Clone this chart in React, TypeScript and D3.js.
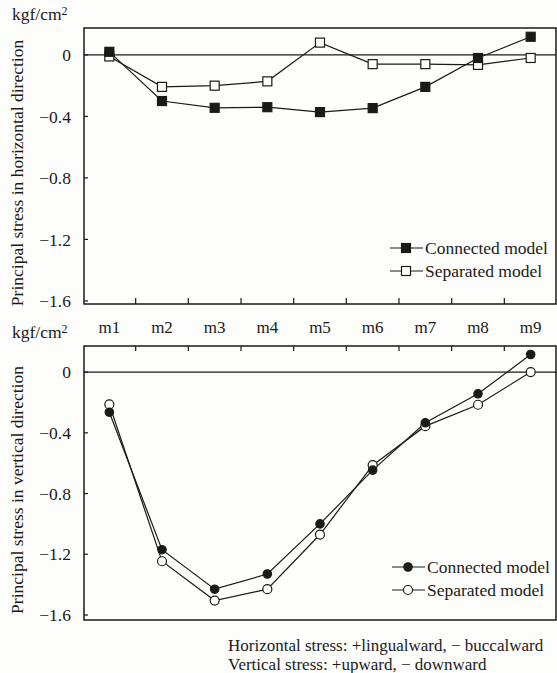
import React from "react"
import * as d3 from "d3"

const positions = ["m1", "m2", "m3", "m4", "m5", "m6", "m7", "m8", "m9"]
const yTicks = [0, -0.4, -0.8, -1.2, -1.6]

// horizontal direction (upper panel)
const horizConnected = [0.02, -0.3, -0.344, -0.34, -0.372, -0.346, -0.208, -0.02, 0.118]
const horizSeparated = [-0.01, -0.208, -0.2, -0.172, 0.08, -0.06, -0.06, -0.065, -0.02]

// vertical direction (lower panel)
const vertConnected = [-0.264, -1.17, -1.43, -1.33, -1.0, -0.646, -0.334, -0.143, 0.116]
const vertSeparated = [-0.213, -1.246, -1.505, -1.43, -1.07, -0.613, -0.356, -0.215, 0]

const seriesNames = ["Connected model", "Separated model"]
const notes = [
  "Horizontal stress: +lingualward, \u2212 buccalward",
  "Vertical stress: +upward, \u2212 downward",
]

const ink = "#1a1a1a"
const font = "'Liberation Serif', 'Times New Roman', serif"
const left = 84,
  right = 556

const x = d3.scaleBand().domain(positions).range([83, 557]).paddingInner(0)
const cx = (d: string) => (x(d) as number) + x.bandwidth() / 2

function Panel({
  top,
  bottom,
  domain,
  connected,
  separated,
  marker,
  title,
  tickSide,
  legendY,
  legendX,
}) {
  const y = d3.scaleLinear().domain(domain).range([top, bottom])
  const line = d3
    .line<number>()
    .x((d, i) => cx(positions[i]))
    .y(d => y(d))

  const drawMarker = (px: number, py: number, filled: boolean, key: string) =>
    marker === "square" ? (
      <rect
        key={key}
        x={px - 4.5}
        y={py - 4.5}
        width={9}
        height={9}
        fill={filled ? ink : "#fff"}
        stroke={ink}
        strokeWidth={1.2}
      />
    ) : (
      <circle
        key={key}
        cx={px}
        cy={py}
        r={filled ? 4.2 : 4.5}
        fill={filled ? ink : "#fff"}
        stroke={ink}
        strokeWidth={1.2}
      />
    )

  const bounds = positions.slice(1).map(p => x(p) as number)

  return (
    <g>
      <rect
        x={left}
        y={top}
        width={right - left}
        height={bottom - top}
        fill="none"
        stroke={ink}
        strokeWidth={1.5}
      />
      <line x1={left} x2={right} y1={y(0)} y2={y(0)} stroke={ink} strokeWidth={1.1} />
      {yTicks.map(t => (
        <g key={t}>
          <line x1={left} x2={left + 4} y1={y(t)} y2={y(t)} stroke={ink} strokeWidth={1.2} />
          <text
            x={71}
            y={y(t)}
            dy="0.35em"
            textAnchor="end"
            fontSize={17.5}
            fontFamily={font}
            fill={ink}
          >
            {t === 0 ? "0" : t.toFixed(1).replace("-", "\u2212")}
          </text>
        </g>
      ))}
      {bounds.map(b =>
        tickSide === "bottom" ? (
          <line key={b} x1={b} x2={b} y1={bottom} y2={bottom - 6} stroke={ink} strokeWidth={1.2} />
        ) : (
          <line key={b} x1={b} x2={b} y1={top} y2={top + 5} stroke={ink} strokeWidth={1.2} />
        )
      )}
      <text x={12} y={top - 8} fontSize={17.5} fontFamily={font} fill={ink}>
        kgf/cm<tspan fontSize={12} dy={-5}>2</tspan>
      </text>
      <text
        transform={`translate(23,${(top + bottom) / 2 + 7}) rotate(-90)`}
        textAnchor="middle"
        fontSize={17.5}
        fontFamily={font}
        fill={ink}
      >
        {title}
      </text>
      <path d={line(separated) as string} fill="none" stroke={ink} strokeWidth={1.2} />
      <path d={line(connected) as string} fill="none" stroke={ink} strokeWidth={1.2} />
      {separated.map((v, i) => drawMarker(cx(positions[i]), y(v), false, "s" + i))}
      {connected.map((v, i) => drawMarker(cx(positions[i]), y(v), true, "c" + i))}
      {seriesNames.map((name, i) => {
        const ly = legendY + i * 23
        return (
          <g key={name}>
            <line x1={legendX} x2={legendX + 33} y1={ly} y2={ly} stroke={ink} strokeWidth={1.2} />
            {drawMarker(legendX + 16, ly, i === 0, "l" + i)}
            <text
              x={legendX + 35}
              y={ly}
              dy="0.35em"
              fontSize={17.5}
              fontFamily={font}
              fill={ink}
            >
              {name}
            </text>
          </g>
        )
      })}
    </g>
  )
}

export default function App() {
  return (
    <svg
      width={557}
      height={673}
      style={{ position: "absolute", left: 0, top: 0, background: "#fdfdfb" }}
    >
      <Panel
        top={28}
        bottom={304}
        domain={[0.175, -1.62]}
        connected={horizConnected}
        separated={horizSeparated}
        marker="square"
        title="Principal stress in horizontal direction"
        tickSide="bottom"
        legendY={248}
        legendX={390}
      />
      {positions.map(p => (
        <text
          key={p}
          x={cx(p)}
          y={327}
          dy="0.35em"
          textAnchor="middle"
          fontSize={17}
          fontFamily={font}
          fill={ink}
        >
          {p}
        </text>
      ))}
      <Panel
        top={346}
        bottom={620}
        domain={[0.172, -1.633]}
        connected={vertConnected}
        separated={vertSeparated}
        marker="circle"
        title="Principal stress in vertical direction"
        tickSide="top"
        legendY={567}
        legendX={392}
      />
      {notes.map((n, i) => (
        <text
          key={n}
          x={228}
          y={645 + i * 19}
          dy="0.35em"
          fontSize={17}
          fontFamily={font}
          fill={ink}
        >
          {n}
        </text>
      ))}
    </svg>
  )
}
